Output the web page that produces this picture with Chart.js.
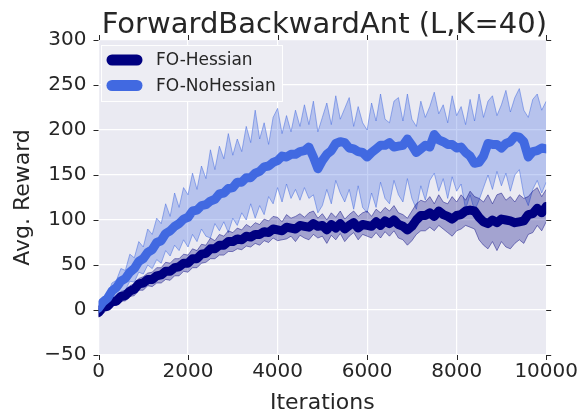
<!DOCTYPE html>
<html>
<head>
<meta charset="utf-8">
<script src="https://cdn.jsdelivr.net/npm/chart.js@4.4.1/dist/chart.umd.min.js"></script>
<style>
  html, body { margin: 0; padding: 0; background: #fff; }
  #wrap { width: 583px; height: 416px; position: relative; }
</style>
</head>
<body>
<div id="wrap"><canvas id="chart" width="583" height="416"></canvas></div>
<script>
'use strict';

// x grid: one sample every 100 iterations
const iterations = Array.from({ length: 101 }, (_, i) => i * 100);
const xTicks = [0, 2000, 4000, 6000, 8000, 10000];
const yTicks = [-50, 0, 50, 100, 150, 200, 250, 300];
const seriesNames = ['FO-Hessian', 'FO-NoHessian'];

// FO-Hessian (navy) : mean and confidence band
const hessMean = [
  -3, 3, 4, 9, 10, 15, 16, 21, 23, 29, 30, 34, 34, 38, 39, 43, 43, 47, 48, 52,
  52, 57, 57, 62, 63, 68, 68, 72, 72, 76, 76, 79, 78, 82, 81, 84, 84, 87, 86, 90,
  89, 88, 92, 91, 90, 94, 93, 92, 96, 93, 94, 89, 95, 91, 96, 90, 94, 97, 91, 95,
  94, 93, 98, 94, 99, 96, 100, 95, 93, 89, 93, 100, 105, 105, 108, 104, 110, 106, 104, 101,
  105, 106, 110, 111, 110, 103, 98, 96, 100, 97, 101, 100, 99, 97, 98, 99, 106, 107, 113, 108,
  115
];
const hessUpper = [
  1, 6, 8, 13, 15, 20, 22, 27, 29, 35, 37, 41, 42, 47, 47, 53, 52, 57, 57, 62,
  61, 68, 66, 73, 72, 80, 77, 84, 82, 88, 86, 91, 89, 95, 92, 97, 95, 101, 99, 104,
  103, 98, 106, 102, 104, 107, 103, 108, 110, 102, 107, 100, 108, 103, 110, 101, 106, 110, 104, 108,
  110, 104, 112, 108, 114, 110, 116, 108, 106, 102, 110, 118, 122, 120, 126, 118, 128, 120, 118, 126,
  120, 128, 122, 132, 126, 124, 120, 128, 118, 128, 130, 122, 126, 120, 128, 124, 126, 132, 136, 126,
  134
];
const hessLower = [
  -6, 0, 0, 5, 5, 10, 10, 15, 16, 22, 22, 27, 26, 30, 30, 34, 33, 38, 38, 43,
  42, 47, 47, 52, 53, 57, 57, 61, 61, 65, 65, 68, 67, 71, 70, 74, 72, 77, 75, 80,
  77, 78, 79, 82, 76, 83, 80, 78, 84, 80, 82, 74, 83, 78, 85, 76, 82, 86, 78, 84,
  82, 80, 86, 80, 87, 82, 88, 80, 78, 72, 77, 84, 88, 88, 92, 88, 94, 90, 86, 82,
  88, 90, 94, 92, 90, 78, 72, 68, 76, 66, 76, 70, 68, 74, 78, 74, 84, 86, 94, 88,
  98
];

// FO-NoHessian (royal blue) : mean and confidence band
const noHessMean = [
  2, 9, 13, 21, 25, 32, 35, 42, 46, 54, 57, 64, 67, 75, 77, 85, 88, 93, 96, 101,
  103, 110, 111, 116, 117, 121, 123, 129, 130, 135, 136, 142, 142, 147, 147, 152, 154, 159, 160, 164,
  166, 171, 170, 173, 173, 176, 177, 181, 170, 157, 166, 173, 177, 185, 187, 186, 180, 179, 176, 175,
  170, 175, 179, 183, 183, 186, 181, 182, 183, 190, 183, 175, 179, 183, 181, 195, 189, 187, 184, 184,
  180, 181, 175, 171, 163, 164, 171, 185, 184, 184, 180, 185, 187, 193, 192, 187, 170, 176, 177, 180,
  179
];
const noHessUpper = [
  4, 14, 16, 30, 33, 46, 44, 62, 58, 76, 70, 90, 84, 102, 96, 118, 104, 130, 114, 136,
  128, 152, 134, 160, 146, 178, 156, 182, 168, 196, 172, 190, 176, 204, 186, 222, 190, 208, 184, 214,
  224, 196, 216, 198, 222, 204, 228, 206, 232, 198, 214, 230, 206, 238, 212, 224, 236, 204, 226, 208,
  200, 230, 210, 240, 212, 208, 232, 236, 210, 240, 212, 204, 232, 214, 226, 242, 218, 228, 208, 238,
  216, 226, 206, 234, 210, 240, 214, 232, 238, 216, 228, 244, 220, 236, 246, 222, 214, 234, 240, 222,
  232
];
const noHessLower = [
  0, 4, 6, 12, 14, 21, 22, 32, 31, 42, 40, 50, 46, 56, 52, 66, 60, 72, 66, 78,
  70, 84, 76, 90, 82, 80, 96, 88, 98, 86, 102, 94, 108, 100, 118, 102, 116, 106, 126, 118,
  136, 120, 140, 124, 134, 122, 136, 124, 128, 108, 116, 134, 118, 144, 130, 120, 134, 112, 138, 114,
  108, 130, 114, 142, 124, 118, 144, 128, 120, 146, 124, 112, 138, 122, 144, 152, 132, 146, 124, 148,
  132, 140, 112, 128, 110, 122, 136, 150, 134, 154, 138, 152, 132, 150, 156, 128, 116, 134, 144, 130,
  142
];

const FONT = 'DejaVu Sans';
const TEXT = '#262626';
const NAVY = '#000080';
const ROYAL = '#4169E1';

function pts(values) {
  return values.map((v, i) => ({ x: iterations[i], y: v }));
}

const plotBg = {
  id: 'plotBg',
  beforeDraw(chart) {
    const { ctx, chartArea: a } = chart;
    ctx.save();
    ctx.fillStyle = '#EAEAF2';
    ctx.fillRect(a.left, a.top, a.right - a.left, a.bottom - a.top);
    ctx.restore();
  }
};

// small outward tick marks on all four sides, plus title and legend
const decorations = {
  id: 'decorations',
  afterDraw(chart) {
    const { ctx, chartArea: a, scales } = chart;
    ctx.save();
    ctx.strokeStyle = TEXT;
    ctx.lineWidth = 1;
    ctx.beginPath();
    xTicks.forEach(v => {
      const x = Math.round(scales.x.getPixelForValue(v)) + 0.5;
      ctx.moveTo(x, a.bottom); ctx.lineTo(x, a.bottom + 5);
      ctx.moveTo(x, a.top); ctx.lineTo(x, a.top - 5);
    });
    yTicks.forEach(v => {
      const y = Math.round(scales.y.getPixelForValue(v)) + 0.5;
      ctx.moveTo(a.left, y); ctx.lineTo(a.left - 5, y);
      ctx.moveTo(a.right, y); ctx.lineTo(a.right + 5, y);
    });
    ctx.stroke();

    ctx.fillStyle = TEXT;
    ctx.font = `29px "${FONT}"`;
    ctx.textAlign = 'center';
    ctx.textBaseline = 'alphabetic';
    ctx.fillText('ForwardBackwardAnt (L,K=40)', (a.left + a.right) / 2 + 2, 33);

    // legend inside the axes
    ctx.fillStyle = '#EDEDF3';
    ctx.strokeStyle = 'rgba(255,255,255,0.9)';
    ctx.fillRect(101, 45, 182, 57);
    ctx.strokeRect(101.5, 45.5, 181, 56);
    const colors = [NAVY, ROYAL];
    seriesNames.forEach((name, i) => {
      const y = 60 + i * 25.5;
      ctx.strokeStyle = colors[i];
      ctx.lineWidth = 11;
      ctx.lineCap = 'round';
      ctx.beginPath();
      ctx.moveTo(112, y); ctx.lineTo(137, y);
      ctx.stroke();
      ctx.fillStyle = TEXT;
      ctx.font = `17px "${FONT}"`;
      ctx.textAlign = 'left';
      ctx.textBaseline = 'middle';
      ctx.fillText(name, 156, y + 1);
    });
    ctx.restore();
  }
};

const band = (values, color, fill, order) => ({
  data: pts(values),
  borderColor: color.edge,
  backgroundColor: color.fill,
  borderWidth: 1,
  pointRadius: 0,
  fill: fill,
  order: order
});

const meanLine = (label, values, color, order) => ({
  label: label,
  data: pts(values),
  borderColor: color,
  borderWidth: 9,
  borderCapStyle: 'round',
  borderJoinStyle: 'round',
  pointRadius: 0,
  fill: false,
  order: order
});

const royalBand = { edge: 'rgba(65,105,225,0.5)', fill: 'rgba(65,105,225,0.3)' };
const navyBand = { edge: 'rgba(0,0,128,0.45)', fill: 'rgba(0,0,128,0.3)' };

new Chart(document.getElementById('chart'), {
  type: 'line',
  data: {
    datasets: [
      band(noHessUpper, royalBand, '+1', 6),
      band(noHessLower, royalBand, false, 6),
      band(hessUpper, navyBand, '+1', 4),
      band(hessLower, navyBand, false, 4),
      meanLine(seriesNames[0], hessMean, NAVY, 2),
      meanLine(seriesNames[1], noHessMean, ROYAL, 1)
    ]
  },
  options: {
    responsive: false,
    animation: false,
    layout: { padding: { top: 40, right: 35.5, left: 0, bottom: 0 } },
    plugins: { legend: { display: false }, tooltip: { enabled: false } },
    scales: {
      x: {
        type: 'linear',
        min: 0, max: 10000,
        afterFit(scale) { scale.height = 61; },
        afterBuildTicks(scale) { scale.ticks = xTicks.map(v => ({ value: v })); },
        grid: { color: '#fff', lineWidth: 1.2, drawTicks: false },
        border: { display: false },
        ticks: { color: TEXT, font: { family: FONT, size: 20 }, padding: 5, maxRotation: 0, callback: v => String(v) },
        title: { display: true, text: 'Iterations', color: TEXT, font: { family: FONT, size: 22 }, padding: { top: 0, bottom: 0 } }
      },
      y: {
        min: -50, max: 300,
        afterFit(scale) { scale.width = 98.5; },
        afterBuildTicks(scale) { scale.ticks = yTicks.map(v => ({ value: v })); },
        grid: { color: '#fff', lineWidth: 1.2, drawTicks: false },
        border: { display: false },
        ticks: {
          color: TEXT, font: { family: FONT, size: 20 }, padding: 12,
          callback: v => (v < 0 ? '\u2212' + Math.abs(v) : String(v))
        },
        title: { display: true, text: 'Avg. Reward', color: TEXT, font: { family: FONT, size: 22 }, padding: { top: 10, bottom: 0 } }
      }
    }
  },
  plugins: [plotBg, decorations]
});
</script>
</body>
</html>
